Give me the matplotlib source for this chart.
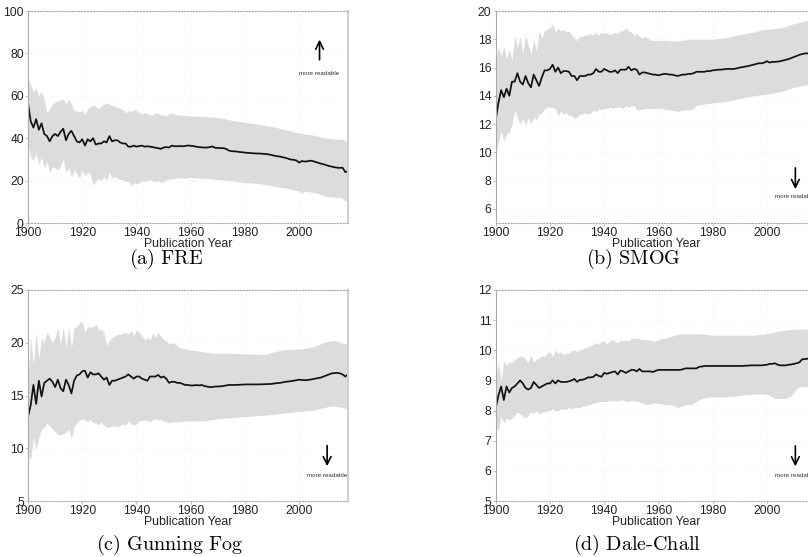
import numpy as np
import matplotlib
matplotlib.use("Agg")
import matplotlib.pyplot as plt

plt.rcParams['font.family'] = ['Liberation Sans', 'DejaVu Sans']
plt.rcParams['mathtext.fontset'] = 'cm'

years = np.arange(1900, 2019)

# (a) FRE
fre_mean = [56.7, 48, 45, 49, 44, 47, 42, 41, 38.5, 41,
            42, 41, 43, 44.5, 39, 42, 43.5, 41, 38.5, 38,
            39.5, 36.5, 39.5, 38.5, 40, 37, 37.5, 37.5, 38.5, 38,
            41, 38.5, 39, 39, 38, 37.5, 37.5, 36, 36, 36.5,
            36, 36.3, 36.5, 36, 36.2, 36, 35.8, 35.5, 35.3, 35,
            35.6, 35.8, 35.6, 36.5, 36.2, 36.2, 36.3, 36.2, 36.3, 36.6,
            36.4, 36.3, 36.0, 35.8, 35.7, 35.6, 35.6, 35.8, 36.1, 35.5,
            35.4, 35.3, 35.3, 35.0, 34.2, 33.9, 33.8, 33.7, 33.5, 33.4,
            33.2, 33.1, 33.0, 32.9, 32.8, 32.8, 32.7, 32.6, 32.5, 32.3,
            32.0, 31.7, 31.5, 31.3, 31.0, 30.7, 30.3, 29.9, 29.8, 29.5,
            28.5, 29.2, 29.0, 29.1, 29.4, 29.2, 28.8, 28.4, 28.0, 27.7,
            27.3, 26.9, 26.6, 26.3, 26.1, 26.0, 26.1, 24.0, 24.5]
fre_hi = [68, 65, 62, 63.5, 60, 62, 58, 52, 54, 56,
          57, 57.5, 58, 58.5, 56, 58.5, 56, 53, 53, 52.5,
          53, 51, 54, 55, 55.5, 55, 54, 55, 56, 56.5,
          56, 55.5, 55, 54.5, 54, 53.5, 52, 53, 52.5, 53.5,
          53, 52, 51.5, 52, 51.5, 51, 51, 52, 51.5, 51,
          51, 50.5, 51.5, 51.8, 51.5, 51, 51, 50.8, 50.7, 50.6,
          50.5, 50.5, 50.4, 50.3, 50.3, 50.2, 50.1, 50.0, 49.9, 49.9,
          49.8, 49.6, 49.4, 49.0, 48.7, 48.5, 48.3, 48.0, 47.8, 47.7,
          47.5, 47.3, 47.1, 46.9, 46.7, 46.5, 46.3, 46.1, 45.9, 45.7,
          45.5, 45.2, 44.9, 44.6, 44.3, 44.0, 43.7, 43.4, 43.0, 42.7,
          42.5, 42.2, 42.0, 41.8, 41.7, 41.5, 41.2, 40.9, 40.6, 40.3,
          40.0, 39.8, 39.6, 39.5, 39.4, 39.5, 39.6, 38.5, 38.0]
fre_lo = [38, 31, 29.5, 33, 27.5, 31, 26, 29, 24, 26.5,
          26, 25, 27, 30, 24, 26, 21.5, 25, 23.5, 21,
          25, 22, 24, 23, 18, 19.5, 21, 20, 22, 20,
          24, 21, 22, 21, 20.5, 20.5, 19.5, 20, 17.5, 19,
          18.5, 19, 20, 19.5, 20, 20.5, 20, 19.5, 20, 19,
          19.5, 20.5, 20.5, 21, 21, 21.5, 21, 21.5, 21, 21.5,
          21.5, 21.4, 21.3, 21.2, 21.1, 21.0, 21.0, 20.9, 20.8, 20.6,
          20.5, 20.4, 20.3, 20.2, 20.1, 20.0, 19.8, 19.6, 19.4, 19.2,
          19.0, 19.0, 18.9, 18.8, 18.7, 18.5, 18.4, 18.2, 18.0, 17.8,
          17.5, 17.3, 17.1, 16.9, 16.7, 16.5, 16.2, 15.9, 15.6, 15.3,
          15.0, 14.0, 15.0, 14.8, 14.6, 14.5, 14.2, 13.8, 13.4, 13.0,
          12.5, 12.4, 12.3, 12.2, 12.1, 12.0, 11.5, 10.5, 10.5]

# (b) SMOG
smog_mean = [12.3, 13.5, 14.4, 13.9, 14.5, 14.0, 15.0, 15.0, 15.6, 15.0,
             14.8, 15.4, 14.9, 14.6, 15.5, 15.1, 14.7, 15.3, 15.8, 15.8,
             15.9, 16.2, 15.7, 16.0, 15.6, 15.75, 15.75, 15.7, 15.4, 15.4,
             15.1, 15.4, 15.4, 15.4, 15.5, 15.5, 15.6, 15.9, 15.7, 15.7,
             15.9, 15.8, 15.7, 15.7, 15.8, 15.6, 15.85, 15.85, 15.85, 16.05,
             15.8, 15.9, 15.85, 15.5, 15.65, 15.65, 15.6, 15.55, 15.5, 15.5,
             15.45, 15.5, 15.55, 15.55, 15.5, 15.5, 15.45, 15.4, 15.45, 15.5,
             15.5, 15.55, 15.55, 15.6, 15.7, 15.7, 15.7, 15.7, 15.75, 15.75,
             15.8, 15.82, 15.85, 15.85, 15.87, 15.9, 15.9, 15.9, 15.9, 15.95,
             16.0, 16.03, 16.07, 16.1, 16.15, 16.2, 16.25, 16.3, 16.3, 16.35,
             16.45, 16.35, 16.4, 16.4, 16.42, 16.45, 16.5, 16.55, 16.6, 16.67,
             16.75, 16.82, 16.9, 16.95, 17.0, 17.0, 16.9, 16.8, 16.8]
smog_hi = [16.3, 17.5, 16.8, 17.5, 16.6, 17.3, 16.5, 18.3, 17.4, 18.2,
           17.0, 18.3, 17.6, 16.9, 18.0, 17.1, 18.6, 18.1, 18.6, 18.7,
           18.8, 19.1, 18.5, 18.8, 18.6, 18.7, 18.5, 18.6, 18.3, 18.1,
           17.9, 18.2, 18.2, 18.3, 18.3, 18.4, 18.3, 18.5, 18.3, 18.5,
           18.4, 18.5, 18.3, 18.4, 18.5, 18.4, 18.6, 18.6, 18.8, 18.6,
           18.5, 18.3, 18.4, 18.2, 18.1, 18.2, 18.1, 17.95, 17.9, 17.9,
           17.9, 17.9, 17.95, 17.9, 17.9, 17.9, 17.85, 17.9, 17.9, 17.95,
           17.95, 17.95, 18.0, 18.0, 18.0, 18.0, 18.0, 18.0, 18.0, 18.0,
           18.0, 18.02, 18.05, 18.07, 18.1, 18.1, 18.15, 18.2, 18.25, 18.3,
           18.3, 18.35, 18.4, 18.45, 18.5, 18.5, 18.55, 18.6, 18.65, 18.7,
           18.7, 18.72, 18.75, 18.77, 18.8, 18.8, 18.85, 18.9, 19.0, 19.05,
           19.1, 19.15, 19.2, 19.25, 19.3, 19.3, 19.3, 19.25, 19.2]
smog_lo = [9.9, 10.7, 11.5, 10.8, 11.3, 11.4, 12.0, 13.0, 12.4, 12.0,
           12.4, 11.9, 12.5, 12.0, 12.5, 12.3, 12.7, 12.8, 13.1, 13.2,
           13.2, 13.2, 13.1, 12.6, 12.9, 12.7, 12.8, 12.6, 12.6, 12.4,
           12.5, 12.7, 12.7, 12.8, 12.7, 12.8, 13.0, 12.9, 13.1, 13.0,
           13.1, 13.1, 13.2, 13.1, 13.2, 13.2, 13.2, 13.1, 13.3, 13.2,
           13.3, 13.3, 13.0, 13.0, 13.05, 13.1, 13.1, 13.1, 13.1, 13.1,
           13.1, 13.1, 13.05, 13.05, 13.0, 13.0, 12.95, 12.9, 12.95, 13.0,
           13.0, 13.0, 13.0, 13.1, 13.3, 13.35, 13.4, 13.42, 13.45, 13.47,
           13.5, 13.52, 13.54, 13.56, 13.58, 13.6, 13.64, 13.68, 13.72, 13.76,
           13.8, 13.84, 13.88, 13.92, 13.96, 14.0, 14.02, 14.05, 14.07, 14.1,
           14.1, 14.14, 14.18, 14.22, 14.26, 14.3, 14.36, 14.42, 14.48, 14.54,
           14.6, 14.64, 14.68, 14.72, 14.76, 14.8, 14.8, 14.75, 14.7]

# (c) Gunning Fog
fog_mean = [13.0, 14.1, 16.0, 14.2, 16.4, 14.9, 16.2, 16.4, 16.6, 16.3,
            15.8, 16.5, 15.7, 15.4, 16.5, 16.0, 15.2, 16.4, 16.9, 17.0,
            17.3, 17.35, 16.7, 17.2, 17.0, 17.0, 17.1, 16.8, 16.5, 16.7,
            16.0, 16.4, 16.4, 16.5, 16.6, 16.7, 16.8, 17.0, 16.8, 16.6,
            16.8, 16.8, 16.6, 16.5, 16.4, 16.8, 16.8, 16.8, 16.95, 16.7,
            16.8, 16.6, 16.2, 16.3, 16.3, 16.2, 16.2, 16.1, 16.0, 16.0,
            15.95, 15.95, 16.0, 15.95, 16.0, 15.9, 15.85, 15.8, 15.8, 15.85,
            15.85, 15.87, 15.9, 15.95, 16.0, 16.0, 16.0, 16.0, 16.02, 16.03,
            16.05, 16.05, 16.05, 16.05, 16.05, 16.05, 16.06, 16.07, 16.08, 16.09,
            16.1, 16.15, 16.18, 16.2, 16.25, 16.3, 16.33, 16.36, 16.4, 16.45,
            16.5, 16.47, 16.45, 16.47, 16.5, 16.55, 16.6, 16.65, 16.7, 16.8,
            16.9, 17.0, 17.1, 17.12, 17.15, 17.1, 17.0, 16.8, 17.0]
fog_hi = [16.5, 20.5, 18.0, 21.0, 18.5, 20.5, 20.0, 21.0, 20.5, 20.0,
          20.5, 21.5, 19.8, 21.5, 19.5, 21.5, 19.5, 21.5, 21.5, 21.9,
          22.0, 21.0, 21.5, 21.5, 21.5, 21.8, 21.2, 21.3, 21.0, 19.7,
          20.2, 20.5, 20.6, 20.8, 20.8, 20.9, 21.0, 20.8, 21.2, 20.7,
          21.2, 21.0, 20.6, 20.3, 20.5, 20.3, 20.9, 20.5, 21.0, 20.6,
          20.3, 20.2, 19.9, 20.0, 19.9, 19.7, 19.5, 19.45, 19.4, 19.35,
          19.3, 19.3, 19.25, 19.2, 19.2, 19.1, 19.1, 19.05, 19.0, 19.0,
          19.0, 19.0, 19.0, 19.0, 19.0, 19.0, 18.98, 18.97, 18.96, 18.95,
          18.95, 18.94, 18.93, 18.92, 18.91, 18.9, 18.9, 18.9, 18.9, 19.0,
          19.1, 19.15, 19.2, 19.3, 19.33, 19.35, 19.36, 19.37, 19.38, 19.39,
          19.4, 19.43, 19.46, 19.5, 19.55, 19.6, 19.7, 19.8, 19.9, 20.0,
          20.1, 20.15, 20.2, 20.2, 20.15, 20.0, 19.95, 19.9, 19.8]
fog_lo = [9.3, 9.0, 11.0, 9.9, 11.0, 11.8, 12.0, 12.4, 12.1, 11.8,
          11.6, 11.3, 11.3, 11.4, 11.5, 11.8, 10.9, 12.0, 12.4, 12.7,
          12.8, 12.7, 12.5, 12.7, 12.4, 12.4, 12.2, 12.5, 12.2, 12.0,
          12.0, 12.1, 12.1, 12.0, 12.2, 12.3, 12.2, 12.6, 12.3, 12.2,
          12.3, 12.6, 12.6, 12.7, 12.6, 12.5, 12.7, 12.8, 12.7, 12.7,
          12.6, 12.5, 12.4, 12.5, 12.5, 12.5, 12.52, 12.54, 12.56, 12.58,
          12.6, 12.6, 12.6, 12.6, 12.6, 12.6, 12.64, 12.68, 12.72, 12.76,
          12.8, 12.82, 12.84, 12.86, 12.88, 12.9, 12.92, 12.94, 12.96, 12.98,
          13.0, 13.02, 13.04, 13.06, 13.08, 13.1, 13.12, 13.14, 13.16, 13.18,
          13.2, 13.23, 13.26, 13.29, 13.32, 13.35, 13.38, 13.41, 13.44, 13.47,
          13.5, 13.52, 13.54, 13.56, 13.58, 13.6, 13.66, 13.72, 13.78, 13.84,
          13.9, 13.95, 14.0, 14.0, 13.95, 13.9, 13.85, 13.8, 13.8]

# (d) Dale-Chall
dc_mean = [8.07, 8.5, 8.8, 8.35, 8.8, 8.6, 8.75, 8.8, 8.9, 9.0,
           8.9, 8.75, 8.7, 8.75, 8.95, 8.85, 8.75, 8.8, 8.85, 8.9,
           8.9, 9.0, 8.9, 9.0, 8.95, 8.95, 8.95, 8.97, 9.0, 9.05,
           8.95, 9.02, 9.02, 9.05, 9.1, 9.1, 9.12, 9.2, 9.15, 9.12,
           9.25, 9.22, 9.25, 9.28, 9.3, 9.2, 9.33, 9.3, 9.25, 9.3,
           9.35, 9.35, 9.3, 9.38, 9.3, 9.3, 9.3, 9.3, 9.28, 9.32,
           9.35, 9.35, 9.35, 9.35, 9.35, 9.35, 9.35, 9.35, 9.35, 9.37,
           9.4, 9.4, 9.4, 9.4, 9.4, 9.45, 9.46, 9.48, 9.48, 9.48,
           9.48, 9.48, 9.48, 9.48, 9.48, 9.48, 9.48, 9.48, 9.48, 9.48,
           9.48, 9.48, 9.49, 9.49, 9.5, 9.5, 9.5, 9.5, 9.5, 9.51,
           9.52, 9.55, 9.55, 9.57, 9.52, 9.5, 9.5, 9.5, 9.52, 9.53,
           9.55, 9.57, 9.6, 9.7, 9.71, 9.72, 9.74, 9.76, 9.78]
dc_hi = [9.0, 9.6, 9.0, 9.65, 9.5, 9.6, 9.6, 9.7, 9.75, 9.8,
         9.8, 9.7, 9.6, 9.85, 9.6, 9.7, 9.75, 9.8, 9.8, 9.9,
         9.95, 9.8, 10.0, 9.9, 9.95, 9.85, 9.9, 9.9, 10.0, 10.0,
         9.95, 10.0, 10.05, 10.1, 10.1, 10.15, 10.2, 10.25, 10.2, 10.3,
         10.3, 10.2, 10.3, 10.35, 10.3, 10.25, 10.35, 10.3, 10.35, 10.3,
         10.4, 10.4, 10.4, 10.38, 10.35, 10.35, 10.35, 10.33, 10.3, 10.32,
         10.35, 10.38, 10.4, 10.42, 10.45, 10.47, 10.5, 10.52, 10.55, 10.55,
         10.55, 10.55, 10.55, 10.55, 10.55, 10.55, 10.54, 10.53, 10.52, 10.51,
         10.5, 10.5, 10.5, 10.5, 10.5, 10.5, 10.5, 10.5, 10.5, 10.5,
         10.5, 10.5, 10.5, 10.5, 10.5, 10.5, 10.51, 10.52, 10.53, 10.54,
         10.55, 10.57, 10.59, 10.61, 10.63, 10.65, 10.66, 10.67, 10.68, 10.69,
         10.7, 10.7, 10.7, 10.7, 10.7, 10.7, 10.7, 10.72, 10.72]
dc_lo = [7.4, 7.35, 7.8, 7.6, 7.75, 7.7, 7.75, 7.85, 7.95, 7.9,
         7.8, 7.75, 7.85, 7.95, 7.9, 8.0, 7.9, 7.95, 7.95, 8.0,
         8.0, 8.05, 8.0, 8.0, 8.05, 8.05, 8.05, 8.1, 8.05, 8.1,
         8.1, 8.1, 8.15, 8.15, 8.2, 8.2, 8.25, 8.25, 8.3, 8.3,
         8.3, 8.3, 8.35, 8.3, 8.35, 8.3, 8.35, 8.35, 8.3, 8.3,
         8.35, 8.32, 8.3, 8.28, 8.25, 8.22, 8.2, 8.22, 8.25, 8.25,
         8.25, 8.22, 8.2, 8.2, 8.2, 8.18, 8.15, 8.1, 8.12, 8.16,
         8.2, 8.2, 8.2, 8.25, 8.3, 8.35, 8.4, 8.42, 8.44, 8.45,
         8.45, 8.45, 8.45, 8.45, 8.45, 8.45, 8.46, 8.47, 8.48, 8.49,
         8.5, 8.51, 8.52, 8.53, 8.54, 8.55, 8.55, 8.55, 8.55, 8.55,
         8.55, 8.5, 8.45, 8.4, 8.4, 8.4, 8.4, 8.4, 8.45, 8.5,
         8.6, 8.75, 8.78, 8.8, 8.8, 8.8, 8.8, 8.8, 8.8]

captions = ['(a)\\ FRE', '(b)\\ SMOG', '(c)\\ Gunning\\ Fog', '(d)\\ Dale\\text{-}Chall']
ylims = [(0, 100), (5, 20), (5, 25), (5, 12)]
yticks = [np.arange(0, 101, 20), np.arange(6, 21, 2), np.arange(5, 26, 5), np.arange(5, 13, 1)]
# arrow: (x, tail y, head y, text y)
arrows = [(2007.5, 77, 86.5, 70.3), (2010.5, 8.9, 7.4, 6.85),
          (2010.3, 10.25, 8.3, 7.4), (2010.5, 6.83, 6.15, 5.84)]

fig = plt.figure(figsize=(8.08, 5.57), dpi=100)
W, H = 808.0, 557.0
boxes = [(28, 223, 212), (495.7, 223, 212), (28, 501, 211), (495.7, 501, 211)]
cap_pos = [(166, 259), (633, 259), (170, 545), (637, 545)]

data = [(fre_mean, fre_lo, fre_hi), (smog_mean, smog_lo, smog_hi),
        (fog_mean, fog_lo, fog_hi), (dc_mean, dc_lo, dc_hi)]

for i in range(4):
    x0, yb, h = boxes[i]
    ax = fig.add_axes([x0 / W, (H - yb) / H, 320 / W, h / H])
    m, lo, hi = data[i]
    ax.fill_between(years, lo, hi, color='#dcdcdc', lw=0)
    ax.plot(years, m, color='#111111', lw=1.25)
    ax.set_xlim(1900, 2018)
    ax.set_ylim(*ylims[i])
    ax.set_xticks(np.arange(1900, 2001, 20))
    ax.set_yticks(yticks[i])
    ax.grid(True, color='#efefef', lw=0.6, ls=':')
    ax.set_axisbelow(True)
    ax.tick_params(labelsize=8.7, length=2, width=0.5, pad=1, colors='#aaaaaa',
                   labelcolor='#222222')
    for s in ['top', 'bottom']:
        ax.spines[s].set_linestyle(':')
        ax.spines[s].set_color('#aaaaaa')
        ax.spines[s].set_linewidth(0.8)
    ax.spines['left'].set_color('#aaaaaa')
    ax.spines['left'].set_linewidth(0.8)
    ax.spines['right'].set_color('#d0d0d0')
    ax.spines['right'].set_linewidth(1.5)
    ax.set_xlabel('Publication Year', fontsize=8.8, labelpad=-1, color='#222222')
    ax_x, t, hd, ty = arrows[i]
    ax.annotate('', xy=(ax_x, hd), xytext=(ax_x, t),
                arrowprops=dict(arrowstyle='->', lw=1.2, color='black',
                                mutation_scale=14, shrinkA=0, shrinkB=0))
    ax.text(ax_x, ty, 'more readable', fontsize=4.5, ha='center', va='center',
            color='#333333')
    cx, cy = cap_pos[i]
    fig.text(cx / W, (H - cy) / H, '$\\mathrm{' + captions[i] + '}$', fontsize=14.5,
             ha='center', va='center')

fig.savefig('out.png', dpi=100)
